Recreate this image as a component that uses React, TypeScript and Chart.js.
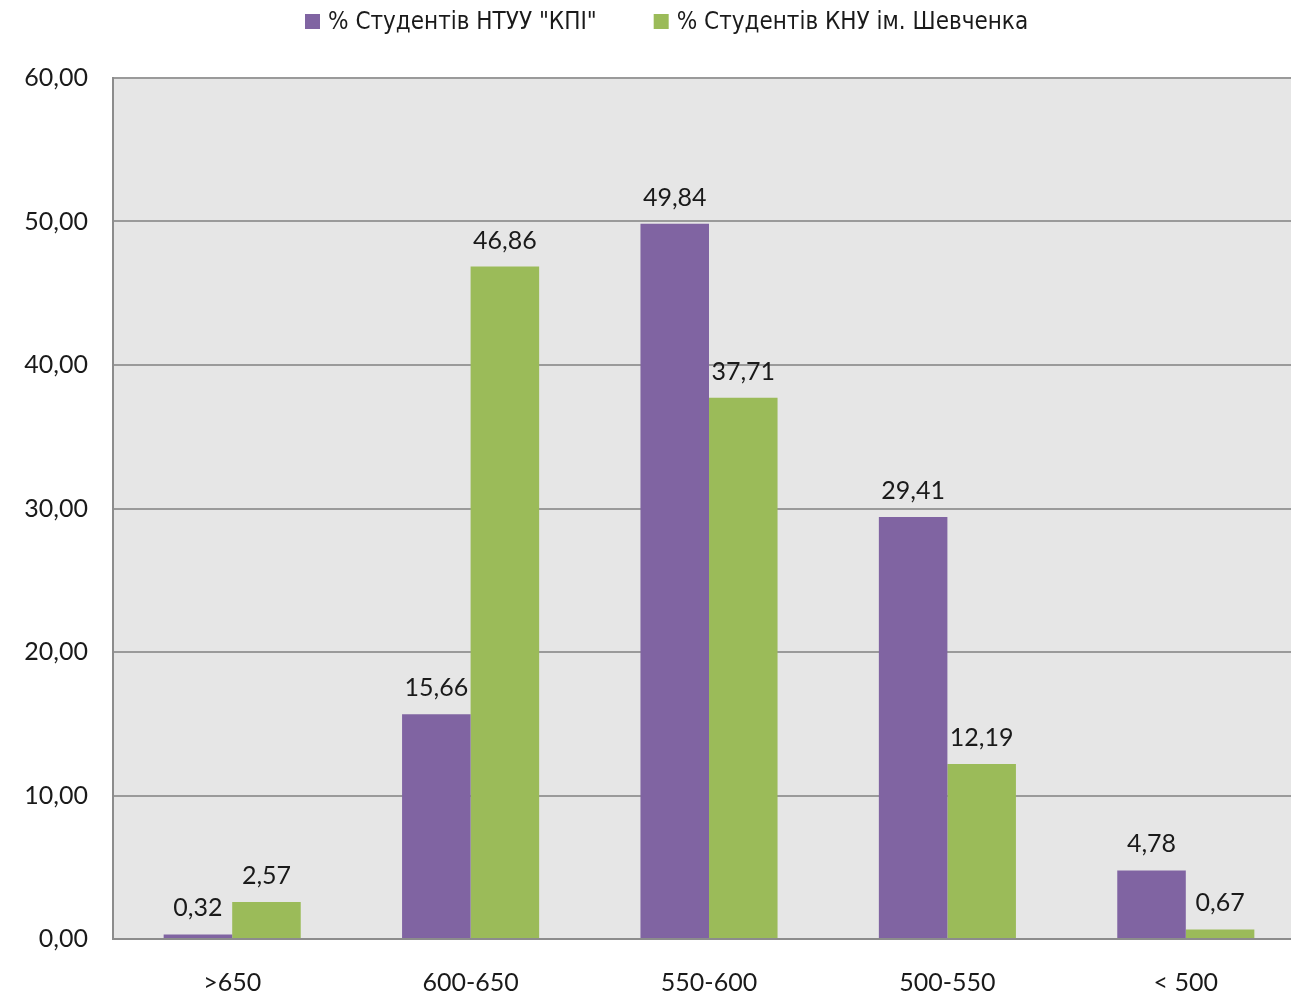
import React, { useEffect, useRef } from "react";
import { Chart, registerables } from "chart.js";

Chart.register(...registerables);

const categories = [">650", "600-650", "550-600", "500-550", "< 500"];
const kpiValues = [0.32, 15.66, 49.84, 29.41, 4.78];
const knuValues = [2.57, 46.86, 37.71, 12.19, 0.67];
const seriesNames = ['% Студентів НТУУ "КПІ"', "% Студентів КНУ ім. Шевченка"];
const seriesColors = ["#8064a2", "#9bbb59"];

const fmt = (v: number) => v.toFixed(2).replace(".", ",");

const FONT = "Lato, 'Open Sans', sans-serif";
const LEGEND_FONT = "'Liberation Sans Narrow', 'DejaVu Sans Condensed', 'DejaVu Sans', sans-serif";

const bgPlugin = {
  id: "plotBg",
  beforeDraw(chart: any) {
    const { ctx, chartArea } = chart;
    ctx.save();
    ctx.fillStyle = "#ffffff";
    ctx.fillRect(0, 0, chart.width, chart.height);
    ctx.fillStyle = "#e6e6e6";
    ctx.fillRect(chartArea.left, chartArea.top, chartArea.right - chartArea.left, chartArea.bottom - chartArea.top);
    ctx.restore();
  },
};

const labelPlugin = {
  id: "valueLabels",
  afterDatasetsDraw(chart: any) {
    const { ctx } = chart;
    ctx.save();
    ctx.font = `25px ${FONT}`;
    ctx.fillStyle = "#1a1a1a";
    ctx.textAlign = "center";
    ctx.textBaseline = "alphabetic";
    chart.data.datasets.forEach((ds: any, i: number) => {
      const meta = chart.getDatasetMeta(i);
      meta.data.forEach((el: any, j: number) => {
        ctx.fillText(fmt(ds.data[j]), el.x, el.y - 18);
      });
    });
    ctx.restore();
  },
};

const legendPlugin = {
  id: "customLegend",
  afterDraw(chart: any) {
    const { ctx } = chart;
    ctx.save();
    ctx.font = `24px ${LEGEND_FONT}`;
    ctx.textBaseline = "middle";
    ctx.textAlign = "left";
    let x = 305;
    const y = 22;
    seriesNames.forEach((name, i) => {
      ctx.fillStyle = seriesColors[i];
      ctx.fillRect(x, y - 8, 15, 15);
      ctx.fillStyle = "#1a1a1a";
      ctx.fillText(name, x + 23, y + 1);
      x += 23 + ctx.measureText(name).width + 57;
    });
    ctx.restore();
  },
};

export default function App() {
  const ref = useRef<HTMLCanvasElement | null>(null);
  useEffect(() => {
    if (!ref.current) return;
    const chart = new Chart(ref.current, {
      type: "bar",
      data: {
        labels: categories,
        datasets: [
          { label: seriesNames[0], data: kpiValues, backgroundColor: seriesColors[0], categoryPercentage: 0.575, barPercentage: 1 },
          { label: seriesNames[1], data: knuValues, backgroundColor: seriesColors[1], categoryPercentage: 0.575, barPercentage: 1 },
        ],
      },
      options: {
        responsive: false,
        animation: false,
        layout: { padding: { top: 78, left: 0, right: 0, bottom: 0 } },
        plugins: { legend: { display: false }, tooltip: { enabled: false } },
        scales: {
          x: {
            grid: { display: false, drawTicks: false },
            border: { display: true, color: "#8c8c8c", width: 2 },
            ticks: { font: { family: FONT, size: 25 }, color: "#1a1a1a", padding: 29 },
            afterFit: (s: any) => { s.height = 56; },
          },
          y: {
            min: 0,
            max: 60,
            grid: { color: "#9a9a9a", lineWidth: 2, drawTicks: false },
            border: { display: true, color: "#8c8c8c", width: 2 },
            ticks: {
              stepSize: 10,
              font: { family: FONT, size: 25 },
              color: "#1a1a1a",
              padding: 25,
              callback: (v: any) => fmt(Number(v)),
            },
            afterFit: (s: any) => { s.width = 113; },
          },
        },
      },
      plugins: [bgPlugin, labelPlugin, legendPlugin],
    });
    return () => chart.destroy();
  }, []);
  return (
    <div style={{ position: "absolute", left: 0, top: 0, width: 1291, height: 995, overflow: "hidden" }}>
      <canvas ref={ref} width={1305} height={995} />
    </div>
  );
}
